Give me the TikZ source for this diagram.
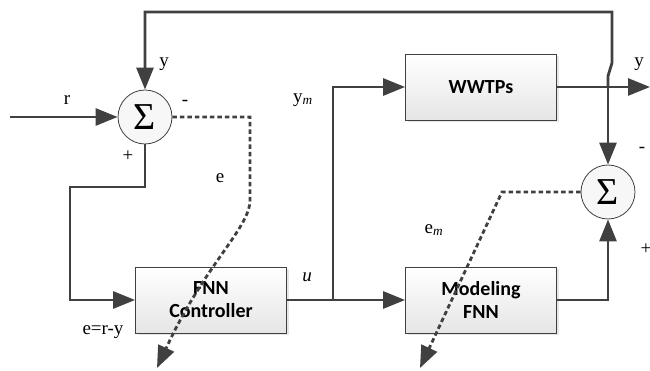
\documentclass[tikz,border=0pt]{standalone}
\usepackage{fontspec}
\setmainfont{Liberation Serif}
\newfontfamily\blockfont{Carlito}
\usetikzlibrary{arrows.meta,shadows}
\definecolor{wire}{HTML}{404040}

\begin{document}
\begin{tikzpicture}[x=1pt,y=-1pt,draw=wire,line width=2.8pt,
    >={Triangle[length=22pt,width=17pt]}]
    \tikzstyle{block}=[draw=wire,line width=0.8pt,top color=white,bottom color=gray!20,
        minimum width=151pt,minimum height=66pt,align=center,
        font=\blockfont\bfseries\fontsize{20}{23}\selectfont,
        drop shadow={opacity=0.2,shadow xshift=2pt,shadow yshift=-2pt}]
    \tikzstyle{sum}=[circle,draw=wire,line width=0.8pt,fill=gray!6,minimum size=54pt,
        inner sep=0pt,font=\fontsize{38}{38}\selectfont]
    \tikzstyle{annot}=[inner sep=0pt,font=\fontsize{19}{19}\selectfont]
    \tikzstyle{error}=[dash pattern=on 4.5pt off 3pt]

    \useasboundingbox (0,0) rectangle (650,371);

    \node[sum] (S-1) at (145,117) {Σ};
    \node[sum] (S-2) at (608,192) {Σ};

    \node[block] (plant) at (481,87) {WWTPs};
    \node[block] (ctrl) at (211,300) {FNN\\Controller};
    \node[block] (model) at (481,300) {Modeling\\FNN};

    \coordinate (in) at (10,117);
    \coordinate (out) at (650,87);
    \coordinate (tap) at (608,87);
    \coordinate (split) at (333,300);
    \coordinate (back) at (70,187);
    \coordinate (e-1) at (250,117);
    \coordinate (e-2) at (250,200);
    \coordinate (e-3) at (157,368);
    \coordinate (em-1) at (502,192);
    \coordinate (em-2) at (420,368);

    % Control loop
    \draw[->] (in) -- (S-1);
    \draw[->] (S-1) |- (back) |- (ctrl);
    \draw (ctrl) -- (split);
    \draw[->] (split) |- (plant);
    \draw[->] (split) -- (model);
    \draw[->] (plant) -- (out);

    % Feedback of y and the model branch
    \draw[->] (tap) -- ++(0,-11) -- ++(4,-13) -- ++(0,-51) -| (S-1);
    \draw[->] (tap) -- (S-2);
    \draw[->] (model) -| (S-2);

    % Error signals
    \draw[error,->] (S-1) -- (e-1) -- (e-2) .. controls (250,228) and (205,264) .. (e-3);
    \draw[error,->] (S-2) -- (em-1) -- (em-2);

    % Annotate the signals
    \node[annot] (l-r) at (67,100) {r};
    \node[annot] (l-y1) at (164,64) {y};
    \node[annot] (l-s1m) at (185,103) {-};
    \node[annot] (l-s1p) at (128,156) {+};
    \node[annot] (l-e) at (220,178) {e};
    \node[annot] (l-err) at (103,332) {e=r-y};
    \node[annot] (l-ym) at (303,100) {y\textsubscript{\itshape m}};
    \node[annot] (l-u) at (307,277) {\itshape u};
    \node[annot] (l-em) at (434,230) {e\textsubscript{\itshape m}};
    \node[annot] (l-y2) at (639,64) {y};
    \node[annot] (l-s2m) at (642,150) {-};
    \node[annot] (l-s2p) at (646,249) {+};

\end{tikzpicture}
\end{document}
